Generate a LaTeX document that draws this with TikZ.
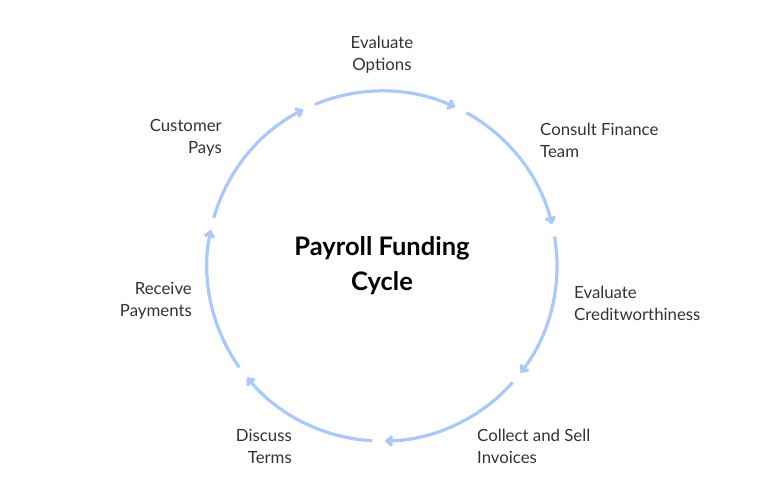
\documentclass[tikz,border=0pt]{standalone}
\usepackage{fontspec}
\setmainfont{Lato}
\usetikzlibrary{arrows.meta}
\definecolor{ringblue}{HTML}{A9C8FB}
\definecolor{inkgray}{HTML}{333333}
\tikzstyle{label} = [text=inkgray, font=\fontsize{16.8}{22}\selectfont, inner sep=0pt]
\tikzstyle{ring} = [ringblue, line width=3.2pt, -{Straight Barb[length=5pt,width=9pt]}]
\begin{document}
\begin{tikzpicture}[x=1pt, y=1pt]
            \useasboundingbox (0,0) rectangle (765,-500);
            \coordinate (centre) at (382,-266);
            \foreach \k in {0,...,6} {
                \pgfmathsetmacro{\e}{116.6-51.43*\k}
                \pgfmathsetmacro{\s}{\e+47.4}
                \draw [ring] ([shift={(\s:175)}]centre) arc[start angle=\s, end angle=\e, radius=175];
            }

            \node (title)    [label, font=\fontsize{25.5}{35}\selectfont\bfseries, text=black, align=center] at (centre) {Payroll Funding\\Cycle};
            \node (options)  [label, align=center] at (382,-55) {Evaluate\\Options};
            \node (consult)  [label, align=left, anchor=west] at (540,-140) {Consult Finance\\Team};
            \node (credit)   [label, align=left, anchor=west] at (574,-303) {Evaluate\\Creditworthiness};
            \node (invoices) [label, align=left, anchor=west] at (477,-446) {Collect and Sell\\Invoices};
            \node (terms)    [label, align=right, anchor=east] at (292,-446) {Discuss\\Terms};
            \node (receive)  [label, align=right, anchor=east] at (192,-301) {Receive\\Payments};
            \node (pays)     [label, align=right, anchor=east] at (222,-138) {Customer\\Pays};
        \end{tikzpicture}
\end{document}
